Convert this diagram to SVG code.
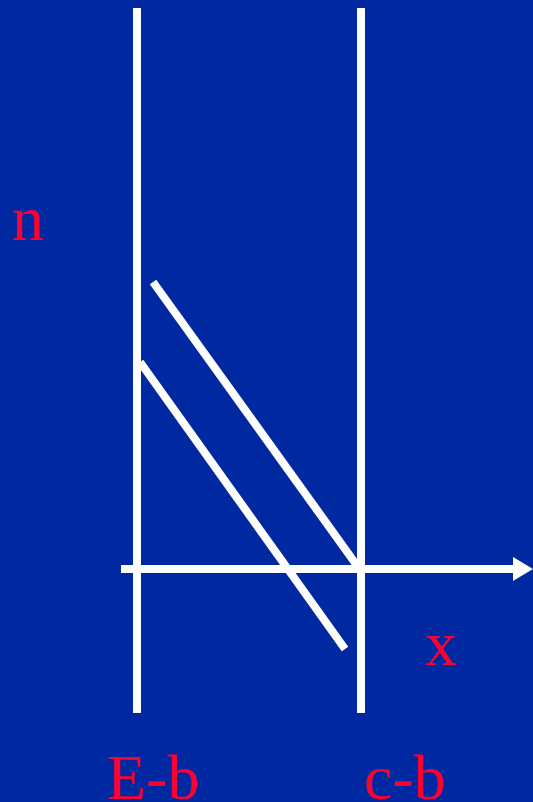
<svg xmlns="http://www.w3.org/2000/svg" width="533" height="802" viewBox="0 0 533 802">
<style>
.ln{stroke:#fff;stroke-width:8;fill:none}
.lbl{font-family:"Liberation Serif",serif;font-size:64px;fill:#FF0033}
</style>
<rect width="533" height="802" fill="#0028A0"/>
<g id="connectors">
<line id="left-line" class="ln" x1="137" y1="8" x2="137" y2="713"/>
<line id="right-line" class="ln" x1="361" y1="8" x2="361" y2="713"/>
<line id="x-axis" class="ln" x1="121" y1="569" x2="515" y2="569"/>
<polygon points="513,557 533,569 513,581" fill="#fff"/>
<line id="diag1" class="ln" stroke-width="7" x1="153" y1="282" x2="358" y2="567"/>
<line id="diag2" class="ln" stroke-width="7" x1="140" y1="362" x2="345" y2="649"/>
</g>
<g id="label-n"><text class="lbl" x="12" y="240">n</text></g>
<g id="label-x"><text class="lbl" x="425" y="665">x</text></g>
<g id="label-Eb"><text class="lbl" x="107" y="799">E-b</text></g>
<g id="label-cb"><text class="lbl" x="364" y="799">c-b</text></g>
</svg>
